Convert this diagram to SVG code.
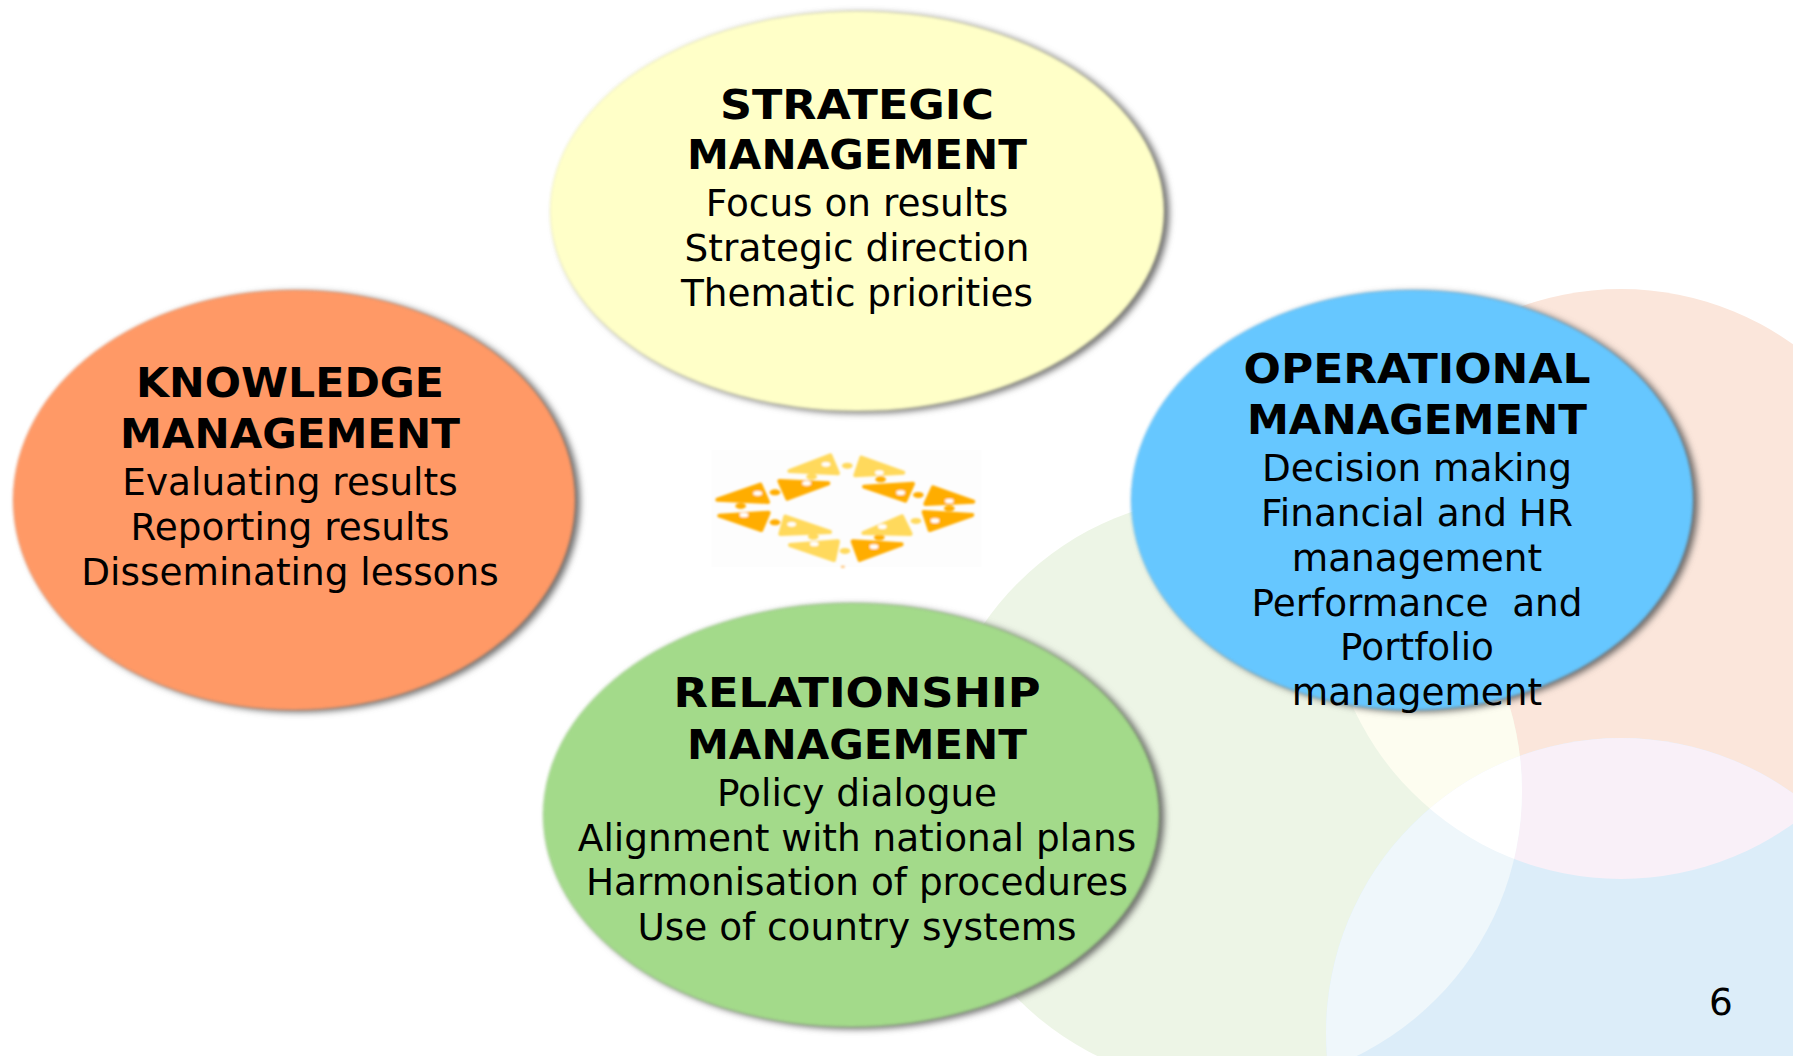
<svg xmlns="http://www.w3.org/2000/svg" width="1793" height="1056" viewBox="0 0 1793 1056">
<style>
text{font-family:"DejaVu Sans","Liberation Sans",sans-serif;fill:#000;text-anchor:middle}
.t{font-size:41px;font-weight:700}
.b{font-size:37.4px}
.e{filter:url(#sh)}
.d{fill:#FFAD00;stroke:#FFAD00}
.l{fill:#FFD95C;stroke:#FFD95C}
path{stroke-width:12;stroke-linejoin:round}
ellipse.k{rx:16px;ry:9px;stroke:none}
ellipse.k.n{rx:13px;ry:7px;fill:#fff;stroke:none}
</style>
<defs>
<filter id="sh" x="-10%" y="-10%" width="120%" height="120%" color-interpolation-filters="sRGB">
<feGaussianBlur in="SourceAlpha" stdDeviation="3.5" result="a"/>
<feOffset in="a" dx="5" dy="2" result="o"/>
<feFlood flood-color="#444" flood-opacity=".8"/>
<feComposite in2="o" operator="in" result="s"/>
<feGaussianBlur in="SourceGraphic" stdDeviation="1.6" result="g"/>
<feMerge><feMergeNode in="s"/><feMergeNode in="g"/></feMerge>
</filter>
<filter id="bl"><feGaussianBlur stdDeviation="2.5"/></filter>
<clipPath id="co"><circle cx="1621" cy="584" r="295"/></clipPath>
<clipPath id="cg"><circle cx="1227" cy="791" r="295"/></clipPath>
</defs>
<rect width="1793" height="1056" fill="#fff"/>
<g id="background">
<circle cx="1621" cy="584" r="295" fill="#FBE6DB"/>
<circle cx="1227" cy="791" r="295" fill="#EDF5E6"/>
<circle cx="1621" cy="1033" r="295" fill="#DCEDF9"/>
<g clip-path="url(#co)"><circle cx="1227" cy="791" r="295" fill="#FDFDF0"/></g>
<g clip-path="url(#co)"><circle cx="1621" cy="1033" r="295" fill="#F9F0F8"/></g>
<g clip-path="url(#cg)"><circle cx="1621" cy="1033" r="295" fill="#EFF7FB"/></g>
<g clip-path="url(#co)"><g clip-path="url(#cg)"><circle cx="1621" cy="1033" r="295" fill="#fff"/></g></g>
</g>
<g id="logo" transform="translate(690 430) scale(.3333)">
<rect x="65" y="60" width="810" height="352" fill="#FDFDFD"/>
<g filter="url(#bl)">
<path class="l" d="M298 123L421 76L444 130Z"/><ellipse class="k l" cx="365" cy="140"/><ellipse class="k n" cx="408" cy="103"/>
<path class="l" d="M514 83L640 128L496 136Z"/><ellipse class="k l" cx="472" cy="107"/><ellipse class="k n" cx="568" cy="128"/>
<path class="d" d="M82 209L211 164L234 216Z"/><ellipse class="k d" cx="152" cy="228"/><ellipse class="k n" cx="203" cy="190"/>
<path class="d" d="M268 153L415 160L292 206Z"/><ellipse class="k d" cx="255" cy="187"/><ellipse class="k n" cx="350" cy="160"/>
<path class="d" d="M522 170L669 161L646 212Z"/><ellipse class="k d" cx="572" cy="148"/><ellipse class="k n" cx="632" cy="188"/>
<path class="d" d="M729 172L850 215L706 222Z"/><ellipse class="k d" cx="685" cy="195"/><ellipse class="k n" cx="778" cy="213"/>
<path class="d" d="M88 257L236 248L214 300Z"/><ellipse class="k d" cx="255" cy="277"/><ellipse class="k n" cx="162" cy="255"/>
<path class="l" d="M286 260L420 306L271 312Z"/><ellipse class="k l" cx="370" cy="320"/><ellipse class="k n" cx="305" cy="283"/>
<path class="l" d="M300 345L444 334L432 390Z"/><ellipse class="k l" cx="465" cy="363"/><ellipse class="k n" cx="373" cy="342"/>
<path class="d" d="M488 334L635 343L509 390Z"/><ellipse class="k d" cx="568" cy="322"/><ellipse class="k n" cx="552" cy="350"/>
<path class="l" d="M520 309L636 259L662 312Z"/><ellipse class="k l" cx="678" cy="273"/><ellipse class="k n" cx="577" cy="290"/>
<path class="d" d="M701 246L847 255L719 300Z"/><ellipse class="k d" cx="778" cy="235"/><ellipse class="k n" cx="735" cy="272"/>
<rect x="453" y="407" width="11" height="7" fill="#FFC880"/>
</g>
</g>
<g id="connectors"></g>
<g id="strategic">
<ellipse class="e" cx="857" cy="211" rx="307" ry="200" fill="#FFFFC8"/>
<text class="t" x="857" y="119" textLength="274" lengthAdjust="spacingAndGlyphs">STRATEGIC</text>
<text class="t" x="857" y="169" textLength="340" lengthAdjust="spacingAndGlyphs">MANAGEMENT</text>
<text class="b" x="857" y="216">Focus on results</text>
<text class="b" x="857" y="261">Strategic direction</text>
<text class="b" x="857" y="306">Thematic priorities</text>
</g>
<g id="knowledge">
<ellipse class="e" cx="294" cy="500" rx="281" ry="210" fill="#FF9966"/>
<text class="t" x="290" y="397" textLength="308" lengthAdjust="spacingAndGlyphs">KNOWLEDGE</text>
<text class="t" x="290" y="448" textLength="340" lengthAdjust="spacingAndGlyphs">MANAGEMENT</text>
<text class="b" x="290" y="495">Evaluating results</text>
<text class="b" x="290" y="540">Reporting results</text>
<text class="b" x="290" y="585">Disseminating lessons</text>
</g>
<g id="operational">
<ellipse class="e" cx="1412" cy="500" rx="281" ry="210" fill="#66C7FF"/>
<text class="t" x="1417" y="383" textLength="347" lengthAdjust="spacingAndGlyphs">OPERATIONAL</text>
<text class="t" x="1417" y="434" textLength="340" lengthAdjust="spacingAndGlyphs">MANAGEMENT</text>
<text class="b" x="1417" y="481">Decision making</text>
<text class="b" x="1417" y="526">Financial and HR</text>
<text class="b" x="1417" y="571">management</text>
<text class="b" x="1417" y="616" xml:space="preserve">Performance  and</text>
<text class="b" x="1417" y="660">Portfolio</text>
<text class="b" x="1417" y="705">management</text>
</g>
<g id="relationship">
<ellipse class="e" cx="851" cy="815" rx="308" ry="212" fill="#A3DA8A"/>
<text class="t" x="857" y="707" textLength="367" lengthAdjust="spacingAndGlyphs">RELATIONSHIP</text>
<text class="t" x="857" y="759" textLength="340" lengthAdjust="spacingAndGlyphs">MANAGEMENT</text>
<text class="b" x="857" y="806">Policy dialogue</text>
<text class="b" x="857" y="851">Alignment with national plans</text>
<text class="b" x="857" y="895">Harmonisation of procedures</text>
<text class="b" x="857" y="940">Use of country systems</text>
</g>
<text id="page" class="b" x="1721" y="1015">6</text>
</svg>
